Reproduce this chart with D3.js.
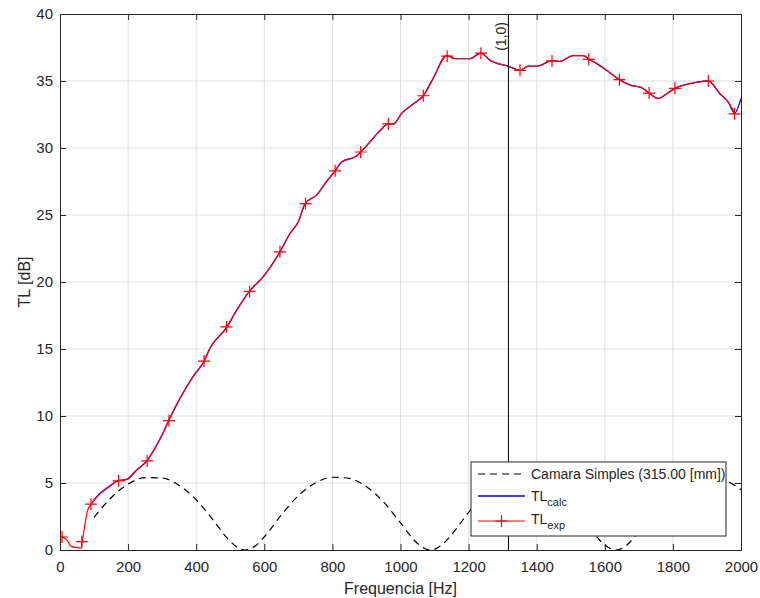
<!DOCTYPE html>
<html lang="pt">
<head>
    <meta charset="UTF-8">
    <title>TL Camara Simples</title>
    <script src="https://d3js.org/d3.v7.min.js"></script>
    <style>
        body { margin: 0; background: #fff; }
        svg text { font-family: "Liberation Sans", Arial, sans-serif; fill: #262626; }
    </style>
</head>
<body>
    <svg width="760" height="598"></svg>

    <script>
        // --- data ---
        const xTicks = [0, 200, 400, 600, 800, 1000, 1200, 1400, 1600, 1800, 2000];
        const yTicks = [0, 5, 10, 15, 20, 25, 30, 35, 40];

        // measured TL curve (red)
        const expCurve = [
            [5, 1.0], [20, 0.75], [34, 0.25], [50, 0.18], [62, 0.13], [66, 0.7], [80, 2.86],
            [91, 3.4], [113, 4.1], [142, 4.67], [171, 5.17], [196, 5.27], [225, 5.97],
            [255, 6.64], [279, 7.6], [300, 8.6], [320, 9.7], [352, 11.3], [391, 12.95],
            [423, 14.09], [440, 15.04], [489, 16.6], [519, 17.9], [556, 19.3], [597, 20.4],
            [646, 22.25], [675, 23.6], [700, 24.5], [720, 25.85], [754, 26.5], [783, 27.5],
            [808, 28.3], [827, 28.96], [871, 29.4], [883, 29.7], [910, 30.45], [940, 31.3],
            [964, 31.8], [979, 31.8], [1004, 32.6], [1038, 33.3], [1067, 33.9], [1096, 35.2],
            [1136, 36.9], [1160, 36.67], [1204, 36.67], [1236, 37.08], [1263, 36.54],
            [1317, 36.1], [1351, 35.8], [1375, 36.1], [1400, 36.1], [1444, 36.5], [1468, 36.47],
            [1507, 36.9], [1537, 36.9], [1552, 36.65], [1576, 36.3], [1605, 35.8], [1643, 35.1],
            [1674, 34.7], [1708, 34.5], [1730, 34.1], [1757, 33.7], [1782, 34.05], [1806, 34.45],
            [1850, 34.8], [1904, 35.0], [1938, 34.05], [1963, 33.4], [1981, 32.6]
        ];

        // markers on the measured curve
        const expMarkers = [
            [6, 0.97], [64, 0.62], [91, 3.42], [172, 5.16], [256, 6.65], [320, 9.65],
            [423, 14.1], [489, 16.65], [557, 19.3], [646, 22.25], [721, 25.85], [808, 28.3],
            [883, 29.7], [964, 31.8], [1067, 33.9], [1137, 36.85], [1236, 37.08], [1351, 35.8],
            [1445, 36.5], [1553, 36.62], [1643, 35.1], [1730, 34.1], [1806, 34.45],
            [1904, 35.0], [1981, 32.55]
        ];

        // calculated TL curve (blue)
        const calcCurve = [
            [96, 3.6], [113, 4.12], [142, 4.7], [171, 5.17], [196, 5.27], [225, 5.97],
            [255, 6.64], [279, 7.6], [300, 8.6], [320, 9.7], [352, 11.3], [391, 12.95],
            [423, 14.09], [440, 15.04], [489, 16.6], [519, 17.9], [556, 19.3], [597, 20.4],
            [646, 22.25], [675, 23.6], [700, 24.5], [720, 25.85], [754, 26.5], [783, 27.5],
            [808, 28.3], [827, 28.96], [871, 29.4], [883, 29.7], [910, 30.45], [940, 31.3],
            [964, 31.8], [979, 31.8], [1004, 32.6], [1038, 33.3], [1067, 33.9], [1096, 35.2],
            [1136, 36.9], [1160, 36.67], [1204, 36.67], [1236, 37.08], [1263, 36.54],
            [1317, 36.1], [1351, 35.8], [1375, 36.1], [1400, 36.1], [1444, 36.5], [1468, 36.47],
            [1507, 36.9], [1537, 36.9], [1552, 36.65], [1576, 36.3], [1605, 35.8], [1643, 35.1],
            [1674, 34.7], [1708, 34.5], [1730, 34.1], [1757, 33.7], [1782, 34.05], [1806, 34.45],
            [1850, 34.8], [1904, 35.0], [1938, 34.05], [1963, 33.4], [1981, 32.6], [2000, 33.7]
        ];

        // simple chamber (dashed)
        const camara = [
            [100, 2.43], [150, 3.9], [200, 4.92], [250, 5.4], [300, 5.37], [350, 4.82],
            [400, 3.75], [450, 2.23], [500, 0.64], [525, 0.13], [545, 0.0], [575, 0.33],
            [600, 0.98], [650, 2.62], [700, 4.05], [750, 5.0], [800, 5.43], [850, 5.34],
            [900, 4.72], [950, 3.59], [1000, 2.03], [1050, 0.49], [1088, 0.0], [1125, 0.46],
            [1150, 1.14], [1200, 2.8], [1250, 4.18], [1300, 5.09], [1350, 5.45], [1400, 5.29],
            [1450, 4.61], [1500, 3.41], [1550, 1.84], [1600, 0.37], [1632, 0.0], [1650, 0.11],
            [1700, 1.36], [1750, 3.0], [1800, 4.33], [1850, 5.15], [1900, 5.45], [1950, 5.23],
            [2000, 4.5]
        ];

        const modeFreq = 1317;
        const modeLabel = "(1,0)";

        // --- layout ---
        const width = 760, height = 598;
        const margin = { top: 14, right: 19, bottom: 48, left: 60 };
        const axisColor = "#262626";

        const svg = d3.select("svg");

        const x = d3.scaleLinear().domain([0, 2000]).range([margin.left, width - margin.right]);
        const y = d3.scaleLinear().domain([0, 40]).range([height - margin.bottom, margin.top]);

        svg.append("defs").append("clipPath").attr("id", "plot")
           .append("rect")
           .attr("x", margin.left).attr("y", margin.top)
           .attr("width", x(2000) - x(0)).attr("height", y(0) - y(40));

        // grid
        svg.append("g").selectAll("line").data(xTicks.slice(1, -1)).enter().append("line")
           .attr("x1", d => x(d)).attr("x2", d => x(d))
           .attr("y1", y(0)).attr("y2", y(40))
           .attr("stroke", "#dfdfdf").attr("stroke-width", 1);
        svg.append("g").selectAll("line").data(yTicks.slice(1, -1)).enter().append("line")
           .attr("x1", x(0)).attr("x2", x(2000))
           .attr("y1", d => y(d)).attr("y2", d => y(d))
           .attr("stroke", "#dfdfdf").attr("stroke-width", 1);

        // axes (inward ticks, on all four sides)
        const tickLen = 6;
        const axes = [
            { g: d3.axisBottom(x), t: `translate(0,${y(0)})`, labels: true },
            { g: d3.axisTop(x), t: `translate(0,${y(40)})`, labels: false },
            { g: d3.axisLeft(y), t: `translate(${x(0)},0)`, labels: true },
            { g: d3.axisRight(y), t: `translate(${x(2000)},0)`, labels: false }
        ];
        axes.forEach((a, i) => {
            const isX = i < 2;
            const ax = svg.append("g")
                .attr("transform", a.t)
                .call(a.g.tickValues(isX ? xTicks : yTicks)
                         .tickSizeInner(-tickLen).tickSizeOuter(0)
                         .tickPadding(isX ? 11 : 7)
                         .tickFormat(a.labels ? d3.format("d") : ""));
            ax.select(".domain").attr("stroke", axisColor);
            ax.selectAll(".tick line").attr("stroke", axisColor);
            ax.selectAll("text").style("font-size", "15px")
              .style("font-family", "'Liberation Sans', Arial, sans-serif")
              .attr("fill", axisColor);
        });

        const plot = svg.append("g").attr("clip-path", "url(#plot)");

        const line = d3.line()
            .x(d => x(d[0]))
            .y(d => y(d[1]))
            .curve(d3.curveMonotoneX);

        // dashed simple chamber
        plot.append("path")
            .datum(camara)
            .attr("fill", "none")
            .attr("stroke", "#000")
            .attr("stroke-width", 1.2)
            .attr("stroke-dasharray", "7,5")
            .attr("d", line);

        // calculated (blue)
        plot.append("path")
            .datum(calcCurve)
            .attr("fill", "none")
            .attr("stroke", "#0000ff")
            .attr("stroke-width", 1.3)
            .attr("d", line);

        // measured (red)
        plot.append("path")
            .datum(expCurve)
            .attr("fill", "none")
            .attr("stroke", "#ff0000")
            .attr("stroke-width", 1.2)
            .attr("d", line);

        // plus markers
        const ms = 6;
        plot.selectAll(".mk")
            .data(expMarkers)
            .enter().append("path")
            .attr("class", "mk")
            .attr("d", d => {
                const px = x(d[0]), py = y(d[1]);
                return `M${px - ms},${py}H${px + ms}M${px},${py - ms}V${py + ms}`;
            })
            .attr("stroke", "#ff0000")
            .attr("stroke-width", 1.2);

        // vertical mode line
        svg.append("line")
            .attr("x1", x(modeFreq)).attr("x2", x(modeFreq))
            .attr("y1", y(0)).attr("y2", y(40))
            .attr("stroke", "#000").attr("stroke-width", 1);

        svg.append("text")
            .attr("transform", `translate(${x(modeFreq) - 2},${y(40) + 8}) rotate(-90)`)
            .attr("text-anchor", "end")
            .style("font-size", "14px")
            .attr("fill", "#000")
            .text(modeLabel);

        // axis labels
        svg.append("text")
            .attr("x", (x(0) + x(2000)) / 2)
            .attr("y", 594)
            .attr("text-anchor", "middle")
            .style("font-size", "16px")
            .text("Frequencia [Hz]");

        svg.append("text")
            .attr("transform", `translate(30,${(y(0) + y(40)) / 2}) rotate(-90)`)
            .attr("text-anchor", "middle")
            .style("font-size", "16px")
            .text("TL [dB]");

        // legend
        const legend = svg.append("g").attr("transform", "translate(471,462)");
        legend.append("rect")
            .attr("width", 255).attr("height", 74)
            .attr("fill", "#fff")
            .attr("stroke", axisColor).attr("stroke-width", 1);

        const lx1 = 7, lx2 = 54, tx = 60;
        // row 1
        legend.append("line")
            .attr("x1", lx1).attr("x2", lx2).attr("y1", 12).attr("y2", 12)
            .attr("stroke", "#000").attr("stroke-width", 1.2).attr("stroke-dasharray", "7,5");
        legend.append("text").attr("x", tx).attr("y", 17).style("font-size", "14px")
            .text("Camara Simples (315.00 [mm])");
        // row 2
        legend.append("line")
            .attr("x1", lx1).attr("x2", lx2).attr("y1", 34).attr("y2", 34)
            .attr("stroke", "#0000ff").attr("stroke-width", 1.3);
        const t2 = legend.append("text").attr("x", tx).attr("y", 39).style("font-size", "14px");
        t2.append("tspan").text("TL");
        t2.append("tspan").attr("dy", 5).style("font-size", "11px").text("calc");
        // row 3
        legend.append("line")
            .attr("x1", lx1).attr("x2", lx2).attr("y1", 59).attr("y2", 59)
            .attr("stroke", "#ff0000").attr("stroke-width", 1.2);
        legend.append("path")
            .attr("d", `M${(lx1 + lx2) / 2 - ms},59H${(lx1 + lx2) / 2 + ms}M${(lx1 + lx2) / 2},${59 - ms}V${59 + ms}`)
            .attr("stroke", "#ff0000").attr("stroke-width", 1.2);
        const t3 = legend.append("text").attr("x", tx).attr("y", 62).style("font-size", "14px");
        t3.append("tspan").text("TL");
        t3.append("tspan").attr("dy", 5).style("font-size", "11px").text("exp");
    </script>
</body>
</html>
